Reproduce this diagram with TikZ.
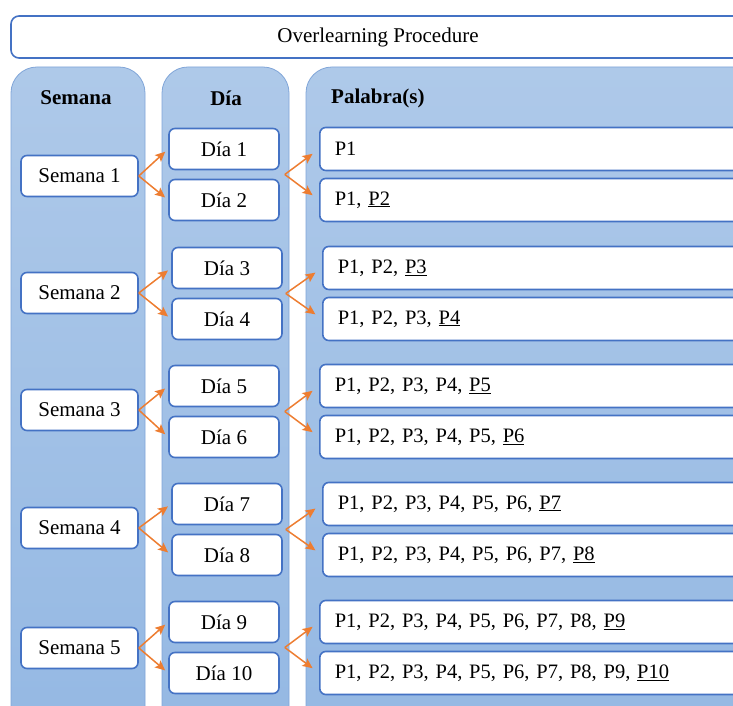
\documentclass[tikz,border=0pt]{standalone}
\usepackage{fontspec}
\setmainfont{Liberation Serif}
\usetikzlibrary{calc, arrows.meta}
\definecolor{boxBlue}{RGB}{68,114,196}
\definecolor{colLine}{RGB}{128,165,216}
\definecolor{colTop}{RGB}{174,201,233}
\definecolor{colBot}{RGB}{148,184,227}
\definecolor{arrOrange}{RGB}{237,125,49}
\tikzstyle{recNode} = [rectangle, minimum height=41pt, text centered, rounded corners=6pt, draw=boxBlue, line width=1.6pt, fill=white, font=\fontsize{21}{25}\selectfont]
\tikzstyle{semNode} = [recNode, minimum width=117pt]
\tikzstyle{diaNode} = [recNode, minimum width=110pt]
\tikzstyle{palNode} = [recNode, anchor=west, minimum height=43pt, inner xsep=15pt, text width=396pt, align=left, font=\fontsize{20.5}{25}\selectfont]
\tikzstyle{colNode} = [rectangle, rounded corners=26pt, draw=colLine, line width=0.8pt, top color=colTop, bottom color=colBot]
\tikzstyle{headNode} = [font=\fontsize{21}{25}\selectfont\bfseries]
\tikzstyle{arrowO} = [line width=1.5pt, draw=arrOrange, -{Stealth[length=10pt,width=9pt,inset=2pt]}]

\begin{document}
\begin{tikzpicture}[x=1pt, y=1pt, node distance=51pt]
        \useasboundingbox (0,0) rectangle (733,706);
        \clip (0,0) rectangle (733,706);

        \node (title) [recNode, rounded corners=8pt, minimum width=734pt, minimum height=42pt] at (378,669) {Overlearning Procedure};

        % columns
        \draw [colNode] (11,-40) rectangle (145,639);
        \draw [colNode] (162,-40) rectangle (289,639);
        \draw [colNode] (306,-40) rectangle (780,639);
        \node (hSem) [headNode] at (76,608) {Semana};
        \node (hDia) [headNode] at (226,608) {Día};
        \node (hPal) [headNode, anchor=west, inner sep=0pt] at (331,608) {Palabra(s)};

        % semanas
        \node (s1) [semNode] at (79.5,530) {Semana 1};
        \node (s2) [semNode] at (79.5,413) {Semana 2};
        \node (s3) [semNode] at (79.5,296) {Semana 3};
        \node (s4) [semNode] at (79.5,178) {Semana 4};
        \node (s5) [semNode] at (79.5,58) {Semana 5};

        % dias
        \node (d1) [diaNode] at (224,557) {Día 1};
        \node (d2) [diaNode, below of=d1] {Día 2};
        \node (d3) [diaNode] at (227,438) {Día 3};
        \node (d4) [diaNode, below of=d3] {Día 4};
        \node (d5) [diaNode] at (224,320) {Día 5};
        \node (d6) [diaNode, below of=d5] {Día 6};
        \node (d7) [diaNode] at (227,202) {Día 7};
        \node (d8) [diaNode, below of=d7] {Día 8};
        \node (d9) [diaNode] at (224,84) {Día 9};
        \node (d10) [diaNode, below of=d9] {Día 10};

        % palabras
        \node (p1) [palNode] at (319,557) {P1};
        \node (p2) [palNode] at (319,506) {P1, \underline{P2}};
        \node (p3) [palNode] at (322,438) {P1, P2, \underline{P3}};
        \node (p4) [palNode] at (322,387) {P1, P2, P3, \underline{P4}};
        \node (p5) [palNode] at (319,320) {P1, P2, P3, P4, \underline{P5}};
        \node (p6) [palNode] at (319,269) {P1, P2, P3, P4, P5, \underline{P6}};
        \node (p7) [palNode] at (322,202) {P1, P2, P3, P4, P5, P6, \underline{P7}};
        \node (p8) [palNode] at (322,151) {P1, P2, P3, P4, P5, P6, P7, \underline{P8}};
        \node (p9) [palNode] at (319,84) {P1, P2, P3, P4, P5, P6, P7, P8, \underline{P9}};
        \node (p10) [palNode] at (319,33) {P1, P2, P3, P4, P5, P6, P7, P8, P9, \underline{P10}};

        % forks between dia and palabra
        \coordinate (f1) at ($(d1.east)!0.5!(d2.east)+(5,0)$);
        \coordinate (f2) at ($(d3.east)!0.5!(d4.east)+(3,0)$);
        \coordinate (f3) at ($(d5.east)!0.5!(d6.east)+(5,0)$);
        \coordinate (f4) at ($(d7.east)!0.5!(d8.east)+(3,0)$);
        \coordinate (f5) at ($(d9.east)!0.5!(d10.east)+(5,0)$);

        \draw [arrowO, shorten >=4pt] (s1.east) -- (d1.west);
        \draw [arrowO, shorten >=4pt] (s1.east) -- (d2.west);
        \draw [arrowO, shorten >=4pt] (s2.east) -- (d3.west);
        \draw [arrowO, shorten >=4pt] (s2.east) -- (d4.west);
        \draw [arrowO, shorten >=4pt] (s3.east) -- (d5.west);
        \draw [arrowO, shorten >=4pt] (s3.east) -- (d6.west);
        \draw [arrowO, shorten >=4pt] (s4.east) -- (d7.west);
        \draw [arrowO, shorten >=4pt] (s4.east) -- (d8.west);
        \draw [arrowO, shorten >=4pt] (s5.east) -- (d9.west);
        \draw [arrowO, shorten >=4pt] (s5.east) -- (d10.west);

        \draw [arrowO, shorten >=8pt] (f1) -- (p1.west);
        \draw [arrowO, shorten >=8pt] (f1) -- (p2.west);
        \draw [arrowO, shorten >=8pt] (f2) -- (p3.west);
        \draw [arrowO, shorten >=8pt] (f2) -- (p4.west);
        \draw [arrowO, shorten >=8pt] (f3) -- (p5.west);
        \draw [arrowO, shorten >=8pt] (f3) -- (p6.west);
        \draw [arrowO, shorten >=8pt] (f4) -- (p7.west);
        \draw [arrowO, shorten >=8pt] (f4) -- (p8.west);
        \draw [arrowO, shorten >=8pt] (f5) -- (p9.west);
        \draw [arrowO, shorten >=8pt] (f5) -- (p10.west);

    \end{tikzpicture}
\end{document}
